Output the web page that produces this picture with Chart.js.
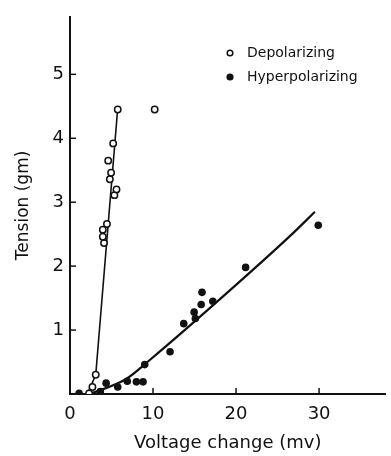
<!DOCTYPE html>
<html>
<head>
<meta charset="utf-8">
<script src="https://cdn.jsdelivr.net/npm/chart.js@4"></script>
<style>
  html, body { margin: 0; padding: 0; background: #fff; }
  #wrap { width: 391px; height: 456px; }
</style>
</head>
<body>
<div id="wrap"><canvas id="tensionChart" width="391" height="456"></canvas></div>
<script>
// Depolarizing responses (open circles)
const depolX = [2.3, 2.7, 3.1, 4.1, 3.95, 3.95, 4.45, 5.35, 5.6, 4.8, 4.95, 4.6, 5.2, 5.75, 10.2];
const depolY = [0.01, 0.11, 0.30, 2.36, 2.46, 2.57, 2.66, 3.11, 3.20, 3.36, 3.46, 3.65, 3.92, 4.45, 4.45];

// Hyperpolarizing responses (filled circles)
const hyperX = [1.1, 3.65, 4.35, 5.75, 6.9, 8.0, 8.8, 9.0, 12.05, 13.7, 14.95, 15.1, 15.8, 15.9, 17.2, 21.15, 29.9];
const hyperY = [0.01, 0.04, 0.17, 0.11, 0.20, 0.19, 0.19, 0.46, 0.66, 1.10, 1.28, 1.18, 1.40, 1.59, 1.45, 1.98, 2.64];

// hand-drawn fit lines
const depolFitX = [2.1, 3.1, 5.75];
const depolFitY = [0, 0.30, 4.47];
const hyperFitX = [2.4, 6.7, 9.5, 20.2, 26.9, 29.5];
const hyperFitY = [0, 0.23, 0.52, 1.73, 2.52, 2.85];

const xTicks = [0, 10, 20, 30];
const yTicks = [1, 2, 3, 4, 5];

const toPoints = (xs, ys) => xs.map((x, i) => ({ x: x, y: ys[i] }));

const FONT = "'DejaVu Sans', sans-serif";
const INK = '#111';

// inward tick marks + legend in the top right
const extras = {
    id: 'extras',
    afterDraw(chart) {
        const ctx = chart.ctx;
        const xs = chart.scales.x, ys = chart.scales.y;
        const area = chart.chartArea;
        ctx.save();
        ctx.strokeStyle = INK;
        ctx.lineWidth = 1.5;
        xTicks.forEach(v => {
            if (v === 0) return;
            const px = xs.getPixelForValue(v);
            ctx.beginPath();
            ctx.moveTo(px, area.bottom);
            ctx.lineTo(px, area.bottom - 6);
            ctx.stroke();
        });
        yTicks.forEach(v => {
            const py = ys.getPixelForValue(v);
            ctx.beginPath();
            ctx.moveTo(area.left, py);
            ctx.lineTo(area.left + 6, py);
            ctx.stroke();
        });

        // legend
        const legendItems = [chart.data.datasets[0], chart.data.datasets[1]];
        ctx.font = '14px ' + FONT;
        ctx.textBaseline = 'middle';
        ctx.fillStyle = INK;
        legendItems.forEach((ds, i) => {
            const cy = 53 + i * 24;
            ctx.beginPath();
            ctx.arc(230, cy, i === 0 ? 2.8 : 3.6, 0, Math.PI * 2);
            if (i === 0) { ctx.lineWidth = 1.5; ctx.stroke(); }
            else ctx.fill();
            ctx.fillText(ds.label, 247, cy);
        });
        ctx.restore();
    }
};

const ctx = document.getElementById('tensionChart').getContext('2d');

new Chart(ctx, {
    type: 'scatter',
    data: {
        datasets: [
            {
                label: 'Depolarizing',
                data: toPoints(depolX, depolY),
                pointStyle: 'circle',
                pointRadius: 3.2,
                pointBorderWidth: 1.5,
                borderColor: INK,
                backgroundColor: '#fff',
                order: 0
            },
            {
                label: 'Hyperpolarizing',
                data: toPoints(hyperX, hyperY),
                pointRadius: 3.8,
                pointBorderWidth: 0,
                borderColor: INK,
                backgroundColor: INK,
                order: 0
            },
            {
                label: 'depol fit',
                data: toPoints(depolFitX, depolFitY),
                showLine: true,
                pointRadius: 0,
                borderColor: INK,
                borderWidth: 1.6,
                order: 1
            },
            {
                label: 'hyper fit',
                data: toPoints(hyperFitX, hyperFitY),
                showLine: true,
                pointRadius: 0,
                borderColor: INK,
                borderWidth: 2.2,
                cubicInterpolationMode: 'monotone',
                order: 1
            }
        ]
    },
    options: {
        responsive: false,
        animation: false,
        layout: { padding: { top: 13, right: 0, left: 0, bottom: 0 } },
        plugins: {
            legend: { display: false },
            tooltip: { enabled: false }
        },
        scales: {
            x: {
                type: 'linear',
                min: 0,
                max: 38,
                afterBuildTicks: s => { s.ticks = xTicks.map(v => ({ value: v })); },
                afterFit: s => { s.height = 62; },
                grid: { display: true, drawOnChartArea: false, drawTicks: false },
                border: { display: true, color: INK, width: 2 },
                ticks: { color: INK, font: { family: FONT, size: 18 }, padding: 10, maxRotation: 0 },
                title: {
                    display: true,
                    text: 'Voltage change (mv)',
                    color: INK,
                    font: { family: FONT, size: 18 },
                    padding: { top: 0, bottom: 2 }
                }
            },
            y: {
                type: 'linear',
                min: 0,
                max: 5.9,
                afterBuildTicks: s => { s.ticks = yTicks.map(v => ({ value: v })); },
                afterFit: s => { s.width = 70; },
                grid: { display: true, drawOnChartArea: false, drawTicks: false },
                border: { display: true, color: INK, width: 2 },
                ticks: { color: INK, font: { family: FONT, size: 18 }, padding: 6 },
                title: {
                    display: true,
                    text: 'Tension (gm)',
                    color: INK,
                    font: { family: FONT, size: 17 },
                    padding: { top: 13, bottom: 0 }
                }
            }
        }
    },
    plugins: [extras]
});
</script>
</body>
</html>
